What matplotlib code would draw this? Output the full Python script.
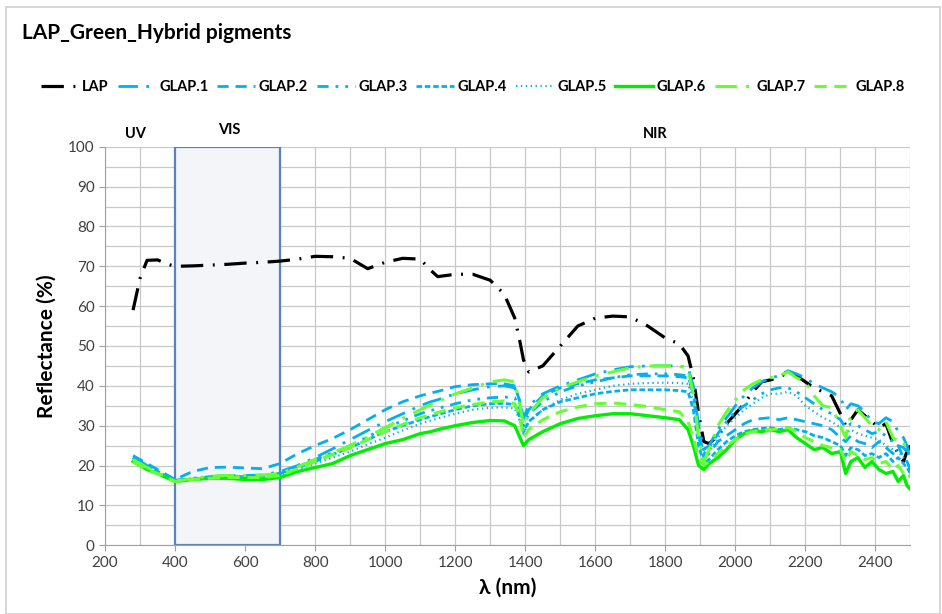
import matplotlib
matplotlib.use("Agg")
import matplotlib.pyplot as plt
from matplotlib.patches import Rectangle
from matplotlib.ticker import MultipleLocator

plt.rcParams['font.family'] = ['Lato', 'DejaVu Sans']

wavelength = [280, 300, 320, 350, 380, 400, 450, 500, 550, 600, 650, 700, 750, 800, 850,
              900, 950, 1000, 1050, 1100, 1130, 1150, 1200, 1250, 1300, 1340, 1370, 1385,
              1395, 1410, 1450, 1500, 1550, 1600, 1650, 1700, 1750, 1800, 1840, 1865, 1880,
              1895, 1910, 1925, 1950, 1975, 2000, 2025, 2050, 2075, 2100, 2125, 2150, 2175,
              2200, 2225, 2250, 2275, 2300, 2315, 2330, 2350, 2370, 2390, 2410, 2430, 2450,
              2465, 2480, 2490, 2500]

lap = [59, 67, 71.5, 71.6, 70.5, 70, 70.1, 70.3, 70.5, 70.8, 71, 71.3, 71.8, 72.5, 72.4,
       72, 69.4, 71, 72, 71.8, 69, 67.4, 68, 68, 66.5, 63, 57, 51, 46.5, 43.5, 45, 50,
       55, 57, 57.5, 57.3, 55, 52, 50.5, 47.5, 42, 33, 26, 25.5, 27.5, 30.5, 33, 35.5,
       38.5, 41, 41.5, 42, 43.5, 42.5, 41, 39.5, 38.5, 37.5, 33, 30, 31.5, 34, 32.5, 31,
       29.5, 30.5, 25.5, 23, 21, 23.5, 25]

glap1 = [22, 21, 20, 18.5, 17, 16.3, 16.8, 17.2, 17.5, 17.5, 17.6, 18.5, 20, 22, 24.2,
         26.5, 28.8, 31, 33, 35, 36, 36.5, 38, 39, 39.8, 40, 39.5, 36, 32, 35, 38, 40,
         41.5, 43, 44, 44.8, 45, 45, 45, 44.5, 40, 30, 24, 25, 29, 32, 35, 37.5, 39.5,
         41, 42, 42.5, 43.8, 43, 42, 40.5, 39.5, 38.5, 37, 34, 35.5, 35, 33.5, 31, 30.5,
         32, 31, 28.5, 27, 25, 21]

glap2 = [22.5, 21.5, 20.5, 19, 17.5, 16.5, 18.5, 19.5, 19.6, 19.4, 19.2, 20.5, 23, 25,
         26.8, 29, 31.5, 34, 36, 37.5, 38.2, 38.6, 39.8, 40.3, 40.5, 40.5, 40, 36, 31,
         34, 37.5, 39.5, 40.5, 41.5, 42, 42.5, 42.5, 42.5, 42.3, 42, 38, 28, 22, 23, 26,
         27.5, 29, 30.5, 31.5, 31.8, 32, 31.5, 32, 31.5, 31, 30.5, 30, 29, 27, 26, 27.5,
         26, 25.5, 24.5, 26, 24.5, 23, 25, 22, 21, 19]

glap3 = [22, 21, 20, 18.5, 17, 16, 16.5, 17, 17.2, 17.2, 17.3, 18, 19.7, 21.5, 23.2, 25,
         27.2, 29.5, 31.2, 33, 33.8, 34.3, 35.5, 36.5, 37, 37.2, 37, 34, 30, 33, 36,
         38.5, 40, 41, 42, 42.8, 43, 43, 42.8, 42.5, 38, 28, 23, 24.5, 28, 31, 33.5, 35,
         36.5, 38, 39, 39.5, 39.5, 38.5, 37, 35.5, 34, 33, 31.5, 29.5, 30.5, 30, 29, 28,
         28.5, 27.5, 26, 25, 24.5, 23.5, 22]

glap4 = [22, 21, 20, 18.5, 17, 16, 16.6, 17, 17.2, 17.2, 17.3, 18, 19.5, 21, 22.8, 24.5,
         26.5, 28.5, 30, 31.5, 32.3, 32.8, 34, 35, 35.5, 35.6, 35.3, 32, 28.5, 31, 34,
         36, 37, 38, 38.6, 39, 39, 39, 38.8, 38.5, 34, 25, 20.5, 21.5, 24, 26, 27.5, 28.5,
         29, 29.3, 29.5, 29, 29.5, 29, 28.5, 27.5, 27, 26, 25, 22.5, 24.5, 24, 22.5, 23,
         22, 23, 21, 22, 20.5, 19.5, 18]

glap5 = [22, 21, 20, 18.5, 17, 16, 16.4, 16.8, 17, 17, 17, 17.5, 19, 20.5, 22, 23.5, 25.3,
         27, 28.8, 30.5, 31.3, 31.8, 33, 34, 34.5, 34.6, 34.3, 31, 28, 31, 34, 36.5,
         38, 39, 40, 40.5, 40.7, 40.8, 40.7, 40.5, 36, 27, 22, 23.5, 27, 30, 32, 34,
         35.5, 37, 38, 38, 38.5, 37.5, 35, 33.5, 32, 31, 29.5, 28, 29, 28, 27.5, 27,
         26.5, 25, 24, 23.5, 22, 21, 20]

glap6 = [21, 20, 19, 18, 16.8, 16, 16.5, 16.8, 16.8, 16.5, 16.5, 17, 18.5, 19.5, 20.5,
         22.5, 24, 25.5, 26.5, 28, 28.5, 29, 30, 30.8, 31.3, 31.2, 30, 27, 25, 26.5, 28.5,
         30.5, 31.8, 32.5, 33, 33, 32.5, 32, 31.5, 29, 25, 20, 19, 20.5, 22, 24, 26.5,
         28, 28.8, 28.5, 29, 28.5, 29, 27, 25.5, 24, 24.5, 23, 23.5, 18, 21, 22, 19.5,
         21, 19, 18, 18.5, 16, 17.5, 15, 14]

glap7 = [21.5, 20.5, 19.5, 18.2, 17, 16, 16.8, 17.3, 17.5, 17.5, 17.6, 18, 19.7, 21.5,
         23.2, 25, 27.2, 29.5, 31.8, 34, 35.3, 36, 38, 39.5, 41, 41.5, 41, 35, 30, 33,
         37, 39.5, 41, 42.5, 43.5, 44.5, 45, 45, 45, 44, 38, 27, 21, 24, 30, 33.5, 36.5,
         39, 40.5, 41.5, 42, 42.5, 43.5, 42, 41, 37.5, 35, 34.5, 30, 27, 33, 34, 32, 30,
         29, 31, 27, 26, 25, 26.5, 26]

glap8 = [21, 20, 19, 18, 16.8, 16, 16.5, 16.8, 17, 17, 17, 17.5, 19.2, 21, 22.8, 24.5,
         26.5, 28.5, 30.3, 32, 32.8, 33.3, 34.5, 35.3, 36, 36.2, 35.5, 32, 27, 29, 31.5,
         33.5, 34.7, 35.5, 35.7, 35.3, 34.8, 34, 33.5, 31, 27, 22, 20, 21, 23, 25, 26.5,
         27.8, 28.5, 28.8, 29, 29.2, 29.5, 28.5, 27, 26, 25, 24.5, 24, 21, 23.5, 22.5,
         21.5, 22, 20.5, 21, 19, 20, 18, 18.5, 17]

series_names = ['LAP', 'GLAP.1', 'GLAP.2', 'GLAP.3', 'GLAP.4', 'GLAP.5', 'GLAP.6', 'GLAP.7', 'GLAP.8']
series_values = [lap, glap1, glap2, glap3, glap4, glap5, glap6, glap7, glap8]

blue = '#00B0F0'
green = '#00EE00'
lgreen = '#66FF33'
styles = [
    dict(color='black', ls=(0, (7, 3, 0.6, 3)), lw=2.3),
    dict(color=blue, ls=(0, (7, 3, 1, 3)), lw=2.0),
    dict(color=blue, ls=(0, (4, 2.5)), lw=2.0),
    dict(color=blue, ls=(0, (4, 2.5, 1, 2.5, 1, 2.5)), lw=2.0),
    dict(color=blue, ls=(0, (2, 1)), lw=2.0),
    dict(color=blue, ls=(0, (0.6, 1.6)), lw=1.6),
    dict(color=green, ls='-', lw=2.4),
    dict(color=lgreen, ls=(0, (7, 3, 1, 3)), lw=2.2),
    dict(color=lgreen, ls=(0, (4, 2.5)), lw=2.2),
]

fig = plt.figure(figsize=(9.42, 6.14), dpi=100)
ax = fig.add_axes([0.1115, 0.112, 0.855, 0.649])

ax.add_patch(Rectangle((400, 0), 300, 100, facecolor='#f3f5f9', edgecolor='#5b82be',
                       linewidth=1.6, zorder=1.5))

for name, vals, st in zip(series_names, series_values, styles):
    ax.plot(wavelength, vals, label=name, zorder=3, dash_capstyle='butt', **st)

ax.set_xlim(200, 2500)
ax.set_ylim(0, 100)
ax.xaxis.set_major_locator(MultipleLocator(200))
ax.xaxis.set_minor_locator(MultipleLocator(100))
ax.yaxis.set_major_locator(MultipleLocator(10))
ax.yaxis.set_minor_locator(MultipleLocator(5))
ax.grid(which='both', color='#c8c8c8', linewidth=0.9, zorder=0)
ax.set_axisbelow(True)
for s in ['top', 'right']:
    ax.spines[s].set_visible(False)
for s in ['left', 'bottom']:
    ax.spines[s].set_color('#a0a0a0')
ax.tick_params(which='major', length=4, color='#a0a0a0', labelsize=11, labelcolor='#404040')
ax.tick_params(which='minor', length=0)

ax.set_xlabel('λ (nm)', fontsize=15, fontweight='bold', labelpad=6)
ax.set_ylabel('Reflectance (%)', fontsize=15, fontweight='bold', labelpad=8)

ax.text(286, 101.5, 'UV', fontsize=10.5, fontweight='bold', ha='center', va='bottom')
ax.text(554, 102.5, 'VIS', fontsize=10.5, fontweight='bold', ha='center', va='bottom')
ax.text(1771, 101.5, 'NIR', fontsize=10.5, fontweight='bold', ha='center', va='bottom')

fig.text(22 / 942, 1 - 33 / 614, 'LAP_Green_Hybrid pigments', fontsize=15,
         fontweight='bold', ha='left', va='center')

leg = fig.legend(loc='center', bbox_to_anchor=(473 / 942, 1 - 87 / 614), ncol=9,
                 frameon=False, fontsize=10.5, handlelength=2.6, handletextpad=0.25,
                 columnspacing=0.6)
for t in leg.get_texts():
    t.set_fontweight('bold')

fig.patches.append(Rectangle((6 / 942, 0), 934 / 942, 1 - 7 / 614, transform=fig.transFigure,
                             fill=False, edgecolor='#d0d0d0', linewidth=1.2))

fig.savefig('out.png', dpi=100)
